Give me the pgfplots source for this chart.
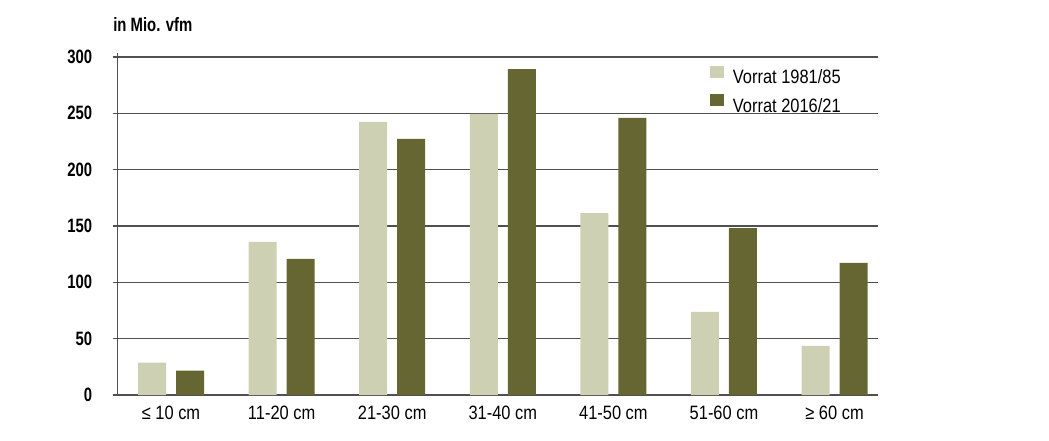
\documentclass[border=0pt]{standalone}
\usepackage{pgfplots}
\pgfplotsset{compat=1.18}
\usepackage{fontspec}
\setmainfont{Liberation Sans}[FakeStretch=0.85]
\newfontfamily\condbold{Liberation Sans}[FakeStretch=0.77]

\definecolor{light}{RGB}{206,208,180}
\definecolor{dark}{RGB}{102,102,51}
\definecolor{gridc}{RGB}{80,80,80}

\begin{document}
\begin{tikzpicture}[x=0.75pt,y=0.75pt]
\useasboundingbox (0,0) rectangle (1049,440);
\node[anchor=base west, inner sep=0pt, font=\condbold\bfseries\fontsize{14.5}{15}\selectfont] at (113,408) {in Mio. vfm};
\begin{axis}[
    at={(88.125pt,33.75pt)}, anchor=south west,
    scale only axis,
    width=570.4pt, height=256.5pt,
    xmin=-0.484, xmax=6.393,
    ymin=0, ymax=303.5,
    axis lines*=left,
    axis line style={gridc, line width=1.1pt},
    ytick={0,50,100,150,200,250,300},
    ymajorgrids=true,
    grid style={gridc, line width=1.1pt},
    tick align=outside,
    major tick length=3.75pt,
    ytick style={gridc, line width=1.1pt},
    xtick={0,1,2,3,4,5,6},
    xticklabels={≤ 10 cm, 11-20 cm, 21-30 cm, 31-40 cm, 41-50 cm, 51-60 cm, ≥ 60 cm},
    xtick style={draw=none},
    /pgf/number format/assume math mode=true,
    yticklabel style={font=\condbold\bfseries\fontsize{14.5}{15}\selectfont, inner sep=0pt, xshift=-15pt},
    xticklabel style={font=\fontsize{14.5}{15}\selectfont, inner sep=0pt, yshift=-4.5pt},
    ybar=7.5pt, bar width=21pt,
    legend style={at={(0.779,0.964)}, anchor=north west, draw=none, fill=none,
        font=\fontsize{14.5}{15}\selectfont, row sep=4.5pt, inner sep=0pt},
    legend cell align=left,
    legend image code/.code={\fill[#1] (0pt,0pt) rectangle (10.5pt,9pt); \path (15pt,0pt);},
]
\addplot[fill=light, draw=none] coordinates {
    (0,28.7) (1,135.8) (2,242.3) (3,249.4) (4,161.5) (5,73.7) (6,43.5)
};
\addplot[fill=dark, draw=none] coordinates {
    (0,21.6) (1,120.7) (2,227.2) (3,289.3) (4,245.9) (5,148.2) (6,117.2)
};
\legend{Vorrat 1981/85, Vorrat 2016/21}
\end{axis}
\end{tikzpicture}
\end{document}
